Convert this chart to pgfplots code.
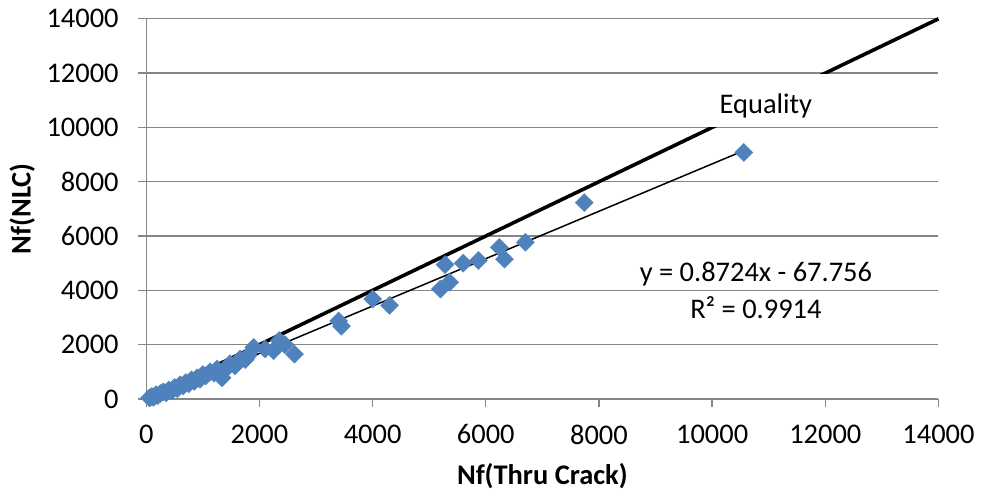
\documentclass[border=0pt]{standalone}
\usepackage{fontspec}
\setmainfont{Carlito}
\usepackage{graphicx}
\usepackage{pgfplots}
\pgfplotsset{compat=1.18}
\definecolor{markblue}{HTML}{4F81BD}
\definecolor{axisgray}{HTML}{868686}

% Nf(Thru Crack) vs Nf(NLC)
\pgfplotstableread{
x y
60 40
100 90
130 60
170 150
200 120
250 200
300 260
350 230
400 330
450 300
500 420
550 380
600 520
650 480
700 600
750 560
800 700
850 650
900 780
950 720
1000 900
1050 850
1130 1000
1200 950
1250 1100
1340 780
1380 1050
1480 1300
1570 1220
1660 1470
1750 1450
1800 1600
1900 1900
2100 1840
2250 1780
2350 2150
2450 2000
2620 1650
3400 2870
3450 2680
4000 3680
4300 3450
5200 4050
5360 4300
5280 4950
5600 5000
5870 5100
6240 5580
6330 5150
6700 5770
7740 7230
10560 9080
}\fatigue

\begin{document}
\fontsize{28.5}{34}\selectfont
\begin{tikzpicture}
\begin{axis}[
  width=794pt, height=381pt, scale only axis,
  xmin=0, xmax=14000, ymin=0, ymax=14000,
  xtick={0,2000,...,14000}, ytick={0,2000,...,14000},
  axis x line*=bottom, axis y line*=left,
  axis line style={axisgray, line width=1.3pt, -},
  ymajorgrids, grid style={axisgray, line width=1.3pt},
  tick align=outside, major tick length=8pt,
  tick style={axisgray, line width=1.3pt},
  /pgf/number format/assume math mode=true,
  /pgf/number format/1000 sep={},
  scaled ticks=false,
  ticklabel style={font=\fontsize{28.5}{34}\selectfont, text=black},
  yticklabel style={xshift=-10pt},
  xticklabel style={yshift=-8pt},
  xlabel={\bfseries Nf(Thru Crack)},
  ylabel={\bfseries Nf(NLC)},
  xlabel style={at={(axis description cs:0.5,-0.2257)}, anchor=base, font=\fontsize{28.5}{34}\selectfont},
  ylabel style={at={(axis description cs:-0.146,0.5)}, anchor=base, rotate=0, font=\fontsize{28.5}{34}\selectfont},
  clip=false,
]
% measured data
\addplot[only marks, mark=square*, mark size=6.4pt,
  mark options={rotate=45, fill=markblue, draw=markblue}] table[x=x, y=y] {\fatigue};
% equality line
\addplot[black, line width=3.6pt] coordinates {(0,0) (14000,14000)};
% linear trend line y = 0.8724x - 67.756
\addplot[black, line width=1.5pt] coordinates {(60,-15.4) (10560,9144.8)};
% anchor points for the series label box
\coordinate (eqA) at (axis cs:9281,10000);
\coordinate (eqB) at (axis cs:12173,11950);
\coordinate (eqT) at (axis cs:10950,10800);
\node[align=center, font=\fontsize{28.5}{37}\selectfont] at (axis cs:10774,4006)
  {y = 0.8724x - 67.756\\R² = 0.9914};
\end{axis}
% series label with opaque background, drawn over the lines
\fill[white] (eqA) rectangle (eqB);
\node[font=\fontsize{28.5}{34}\selectfont] at (eqT) {Equality};
\end{tikzpicture}
\end{document}
